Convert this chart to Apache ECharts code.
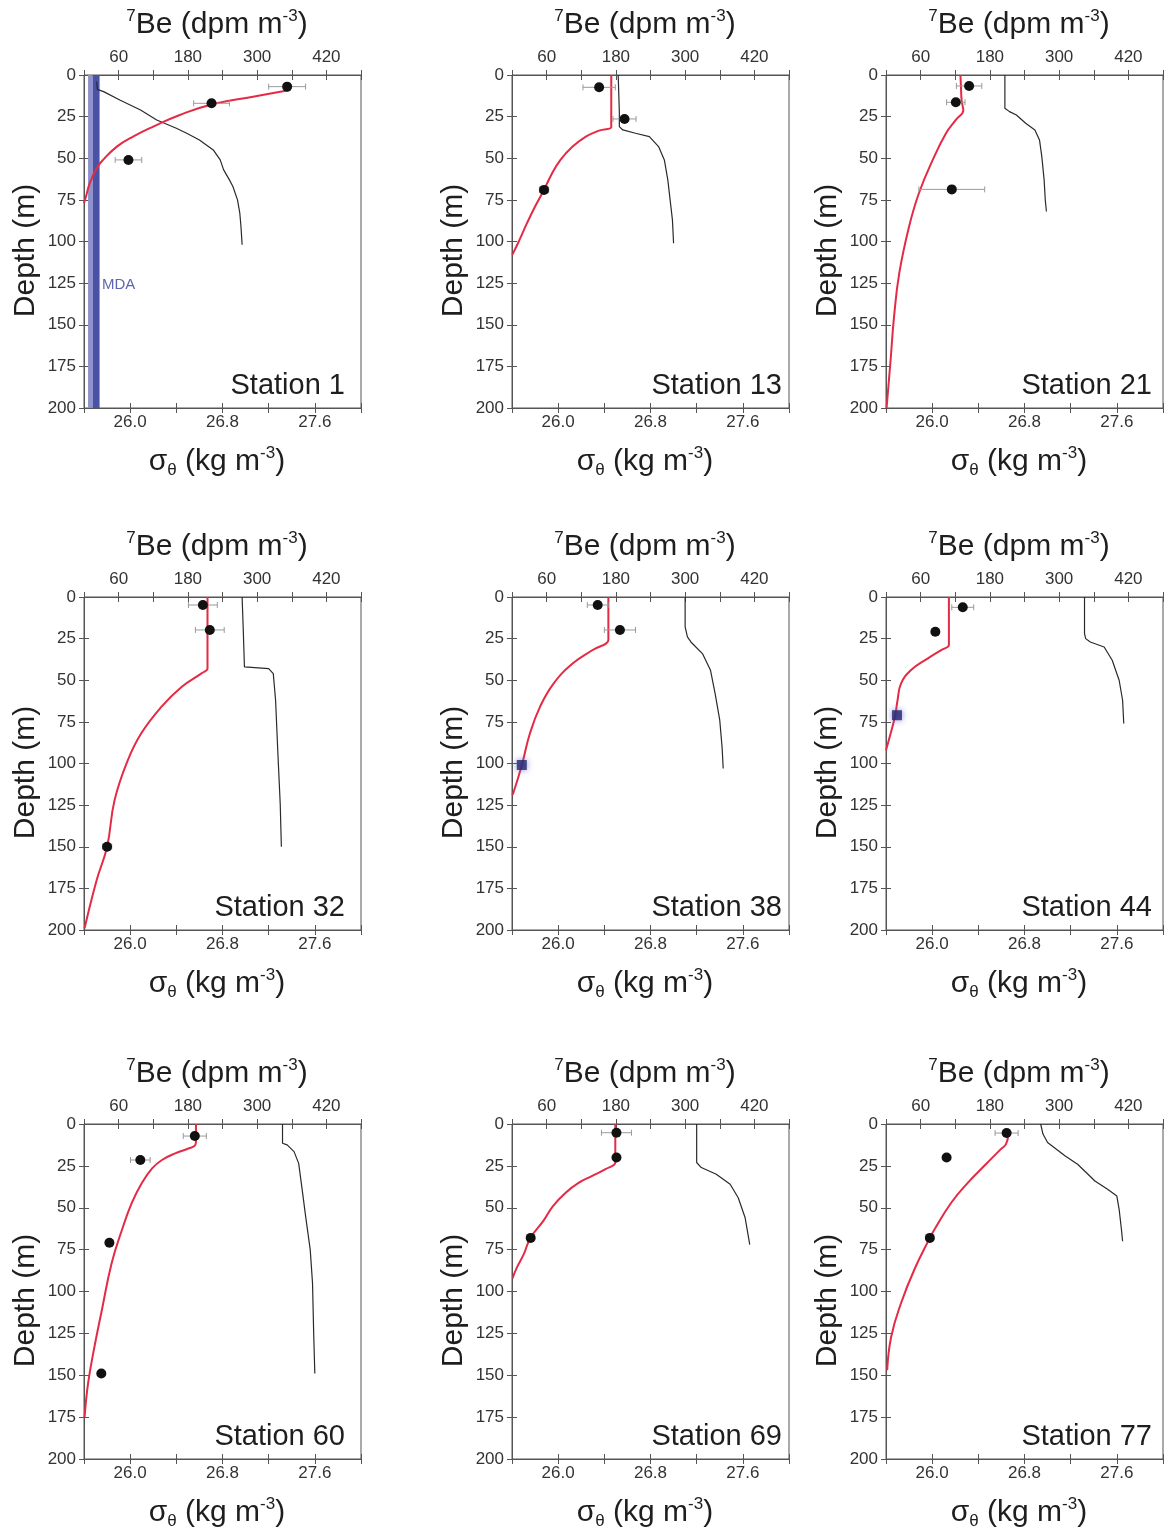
<!DOCTYPE html>
<html><head><meta charset="utf-8">
<script src="https://cdn.jsdelivr.net/npm/echarts@6/dist/echarts.min.js"></script>
<style>html,body{margin:0;padding:0;background:#fff}#c{width:1171px;height:1531px}</style>
</head><body><div id="c"></div>
<script>
// ---------------- DATA ----------------
const stations = ['Station 1','Station 13','Station 21','Station 32','Station 38','Station 44','Station 60','Station 69','Station 77'];

// 7Be measurements (dpm m-3) with depth (m) and horizontal error
const beDepth = [[7,17,51],[7.4,26.4,69],[6.6,16.4,68.7],[4.8,19.8,150],[4.8,19.8],[6.2,20.9],[7.2,21.5,70.9,149],[5.2,20,68],[5.4,20,68]];
const beValue = [[352,221,77],[151,195,55.5],[144,121,114],[206,218,40],[148.5,187],[133,85.5],[192,97.6,44,30],[181,181,32.4],[209,105,76]];
const beError = [[32,31,23],[28,20,8],[22,16,57],[25,25,8],[18,27],[19,6],[20,17,5,5],[26,5,5],[20,5,5]];

// samples below the minimum detectable activity (blue squares)
const mdaDepth = [[],[],[],[],[100.9],[71],[],[],[]];
const mdaValue = [[],[],[],[],[17],[19],[],[],[]];

// model fit of 7Be vs depth (red)
const fitDepth = [
  [9,13,17.4,24,31,37,43,51,56,65,73,77],
  [0,29.5,31.4,33.4,37,43,51,60,69,79,89,99,107,108],
  [0,8,15,19,21,27,35,51,71,91,119,145,171,200],
  [0,41,43,46,54,66,82,98,122,150,170,199],
  [0,24,25.8,32,40,52,66,82,101,118,119],
  [0,27,28.9,32,37,44,52,62,71,82,92],
  [0,10,12.5,14.5,17.5,21.5,26.5,35.4,47,63,83,111,135,155,175],
  [0,21,23,27,31,35,41,49,58,68,78,86,92],
  [6,12,15,23,35,47,63,68,87,107,127,147]
];
const fitValue = [
  [357,293,224,166,120,85,57,33,22,10,3.5,0],
  [172,172,172,151,128,105,84,68,55.5,40,26,13,2,0],
  [129,130,131,133,134,121,104,81,57,40,23,14,8,1],
  [214,214,214,203,169,134,99,76,53,40,22,1],
  [167,167,167,139,105,72,48.5,31,17,2,0],
  [109,109,109,95,72,43,26,20,16,8,0],
  [194,194,193,182,158,135,118,100,83,66,48,31,17,7,1],
  [179,179,179,162,139,116,93,71,54,32,20,8,1],
  [212,208,199,176,142,113,84,76,49,26,9,2]
];

// potential density sigma-theta (kg m-3) profile (black)
const sigmaDepth = [
  [4,8.6,10,15,21,27,32,35,39,45,51,57,63,67,75,83,91,102],
  [0,22,31,33,35,37,43,51,63,75,87,101],
  [0,20,22,24,29,33,39,49,63,75,82],
  [0,20,42,43,46,62,94,124,150],
  [0,18,24,27,34,44,58,74,90,103],
  [0,22,25,27,30,38,50,62,76],
  [0,11.5,12.5,16.5,23.5,39,55,75,95,125,149],
  [0,23,26,30,36,44,56,68,72],
  [0,6,11,19,24,30,34,39,43,51,63,70]
];
const sigmaValue = [
  [25.71,25.715,25.77,25.91,26.09,26.23,26.40,26.49,26.60,26.72,26.78,26.81,26.86,26.89,26.93,26.95,26.96,26.97],
  [26.52,26.53,26.53,26.56,26.67,26.79,26.87,26.92,26.95,26.97,26.99,27.00],
  [26.63,26.63,26.67,26.73,26.81,26.89,26.93,26.95,26.97,26.98,26.99],
  [26.97,26.98,26.99,27.20,27.24,27.26,27.28,27.30,27.31],
  [27.10,27.10,27.12,27.15,27.25,27.32,27.36,27.40,27.42,27.43],
  [27.32,27.32,27.33,27.37,27.49,27.56,27.62,27.65,27.66],
  [27.32,27.32,27.36,27.42,27.46,27.49,27.52,27.56,27.58,27.59,27.60],
  [27.20,27.20,27.24,27.37,27.49,27.56,27.62,27.65,27.66],
  [26.94,26.96,27.00,27.15,27.26,27.35,27.41,27.52,27.60,27.62,27.64,27.65]
];

// MDA band (Station 1), 7Be units
const mdaBandLight = [7, 15];
const mdaBandDark = [15, 27];
const mdaLabelPos = [31, 126];

// tick labels
const beTickLabels = [60, 180, 300, 420];
const sigmaTickLabels = ['26.0', '26.8', '27.6'];

// ---------------- LAYOUT ----------------
const FONT = '"Liberation Sans", Arial, Helvetica, sans-serif';
const colLeft = [84, 512, 886];
const rowTop = [75, 597, 1124];
const rowH = [333, 333, 335];
const plotW = 277;
const stationRight = [345, 782, 1152];
const axisColor = '#555';
const textColor = '#1e1e1e';

const richStyles = {
  sup: {fontSize: 17, lineHeight: 22, verticalAlign: 'top', fontFamily: FONT, color: textColor},
  sub: {fontSize: 17, lineHeight: 14, verticalAlign: 'bottom', fontFamily: FONT, color: textColor}
};
const nameStyleX = {fontFamily: FONT, fontSize: 30, color: textColor, lineHeight: 34, rich: richStyles, padding: [0, 11, 0, 0]};
const nameStyleY = {fontFamily: FONT, fontSize: 30, color: textColor, lineHeight: 34, padding: [0, 18, 0, 0]};
const labelStyle = {fontFamily: FONT, fontSize: 17, color: '#333'};

const grids = [], xAxes = [], yAxes = [], series = [], graphics = [];

function errRender(params, api) {
  const c = api.value(0), d = api.value(1), e = api.value(2);
  const a = api.coord([c - e, d]), b = api.coord([c + e, d]);
  const st = {stroke: '#9a9a9a', lineWidth: 1};
  return {type: 'group', children: [
    {type: 'line', shape: {x1: a[0], y1: a[1], x2: b[0], y2: b[1]}, style: st},
    {type: 'line', shape: {x1: a[0], y1: a[1] - 3, x2: a[0], y2: a[1] + 3}, style: st},
    {type: 'line', shape: {x1: b[0], y1: b[1] - 3, x2: b[0], y2: b[1] + 3}, style: st}
  ]};
}

for (let g = 0; g < 9; g++) {
  const r = Math.floor(g / 3), c = g % 3;
  const left = colLeft[c], top = rowTop[r], h = rowH[r];
  grids.push({left: left, top: top, width: plotW, height: h, show: true, borderColor: axisColor, borderWidth: 1,
    backgroundColor: 'transparent', containLabel: false, outerBoundsMode: 'none'});

  const tickStyle = {color: axisColor, width: 1};
  // bottom sigma axis (main)
  xAxes.push({type: 'value', gridIndex: g, position: 'bottom', min: 25.6, max: 28.0, interval: 0.4,
    axisLine: {show: true, onZero: false, lineStyle: tickStyle},
    axisTick: {show: true, inside: false, length: 5, lineStyle: tickStyle},
    axisLabel: {show: true, margin: 6, ...labelStyle, showMinLabel: true, showMaxLabel: true,
      formatter: v => { const s = (Math.round(v * 10) / 10).toFixed(1); return sigmaTickLabels.indexOf(s) >= 0 ? s : ''; }},
    splitLine: {show: false},
    name: 'σ{sub|θ} (kg m{sup|-3})', nameLocation: 'middle', nameGap: 37, nameMoveOverlap: false, nameTextStyle: nameStyleX});
  // top 7Be axis (main)
  xAxes.push({type: 'value', gridIndex: g, position: 'top', min: 0, max: 480, interval: 60,
    axisLine: {show: true, onZero: false, lineStyle: tickStyle},
    axisTick: {show: true, inside: false, length: 5, lineStyle: tickStyle},
    axisLabel: {show: true, margin: 9, ...labelStyle,
      formatter: v => beTickLabels.indexOf(Math.round(v)) >= 0 ? String(Math.round(v)) : ''},
    splitLine: {show: false},
    name: '{sup|7}Be (dpm m{sup|-3})', nameLocation: 'middle', nameGap: 33, nameMoveOverlap: false, nameTextStyle: nameStyleX});
  // inside tick duplicates
  xAxes.push({type: 'value', gridIndex: g, position: 'bottom', min: 25.6, max: 28.0, interval: 0.4,
    axisLine: {show: false, onZero: false}, axisTick: {show: true, inside: true, length: 5, lineStyle: tickStyle},
    axisLabel: {show: false}, splitLine: {show: false}});
  xAxes.push({type: 'value', gridIndex: g, position: 'top', min: 0, max: 480, interval: 60,
    axisLine: {show: false, onZero: false}, axisTick: {show: true, inside: true, length: 5, lineStyle: tickStyle},
    axisLabel: {show: false}, splitLine: {show: false}});

  yAxes.push({type: 'value', gridIndex: g, position: 'left', inverse: true, min: 0, max: 200, interval: 25,
    axisLine: {show: true, onZero: false, lineStyle: tickStyle},
    axisTick: {show: true, inside: false, length: 5, lineStyle: tickStyle},
    axisLabel: {show: true, margin: 8, ...labelStyle, showMinLabel: true, showMaxLabel: true},
    splitLine: {show: false},
    name: 'Depth (m)', nameLocation: 'middle', nameGap: 41, nameMoveOverlap: false, nameTextStyle: nameStyleY});
  yAxes.push({type: 'value', gridIndex: g, position: 'left', inverse: true, min: 0, max: 200, interval: 25,
    axisLine: {show: false, onZero: false}, axisTick: {show: true, inside: true, length: 5, lineStyle: tickStyle},
    axisLabel: {show: false}, splitLine: {show: false}});

  const xs = 4 * g, xb = 4 * g + 1, y = 2 * g;

  // density profile
  series.push({type: 'line', name: 'sigma', xAxisIndex: xs, yAxisIndex: y, symbol: 'none', silent: true, z: 3,
    data: sigmaValue[g].map((v, i) => [v, sigmaDepth[g][i]]),
    lineStyle: {color: '#2a2a2a', width: 1.2}});

  // fit curve (with MDA band for station 1)
  const fit = {type: 'line', name: 'fit', xAxisIndex: xb, yAxisIndex: y, symbol: 'none', silent: true, z: 4,
    smooth: 0.45,
    data: fitValue[g].map((v, i) => [v, fitDepth[g][i]]),
    lineStyle: {color: '#e42a44', width: 2}};
  if (g === 0) {
    fit.markArea = {silent: true, z: 1, data: [
      [{xAxis: mdaBandLight[0], itemStyle: {color: '#8e93cf'}}, {xAxis: mdaBandLight[1]}],
      [{xAxis: mdaBandDark[0], itemStyle: {color: '#4a52a6'}}, {xAxis: mdaBandDark[1]}]
    ]};
  }
  series.push(fit);

  // error bars
  series.push({type: 'custom', xAxisIndex: xb, yAxisIndex: y, silent: true, z: 5,
    renderItem: errRender, encode: {x: 0, y: 1},
    data: beValue[g].map((v, i) => [v, beDepth[g][i], beError[g][i]])});

  // measured points
  series.push({type: 'scatter', xAxisIndex: xb, yAxisIndex: y, silent: true, z: 6,
    symbol: 'circle', symbolSize: 10, itemStyle: {color: '#111', opacity: 1},
    data: beValue[g].map((v, i) => [v, beDepth[g][i]])});

  // below MDA squares
  if (mdaValue[g].length) {
    series.push({type: 'scatter', xAxisIndex: xb, yAxisIndex: y, silent: true, z: 7,
      symbol: 'rect', symbolSize: 10,
      itemStyle: {color: '#23266e', shadowBlur: 6, shadowColor: '#6d72d0'},
      data: mdaValue[g].map((v, i) => [v, mdaDepth[g][i]])});
  }

  if (g === 0) {
    series.push({type: 'scatter', xAxisIndex: xb, yAxisIndex: y, silent: true, z: 7, symbolSize: 0,
      data: [mdaLabelPos],
      label: {show: true, position: 'right', distance: 0, formatter: 'MDA', fontFamily: FONT, fontSize: 15, color: '#34409a'}});
  }

  // station label
  graphics.push({type: 'text', x: stationRight[c], y: top + h - 22, silent: true,
    style: {text: stations[g], fill: textColor, font: '29px ' + FONT,
      textAlign: 'right', align: 'right', textVerticalAlign: 'middle', verticalAlign: 'middle'}});
}

const chart = echarts.init(document.getElementById('c'), null, {renderer: 'canvas'});
chart.setOption({
  backgroundColor: '#ffffff',
  animation: false,
  grid: grids,
  xAxis: xAxes,
  yAxis: yAxes,
  series: series,
  graphic: graphics
});
</script>
</body></html>
